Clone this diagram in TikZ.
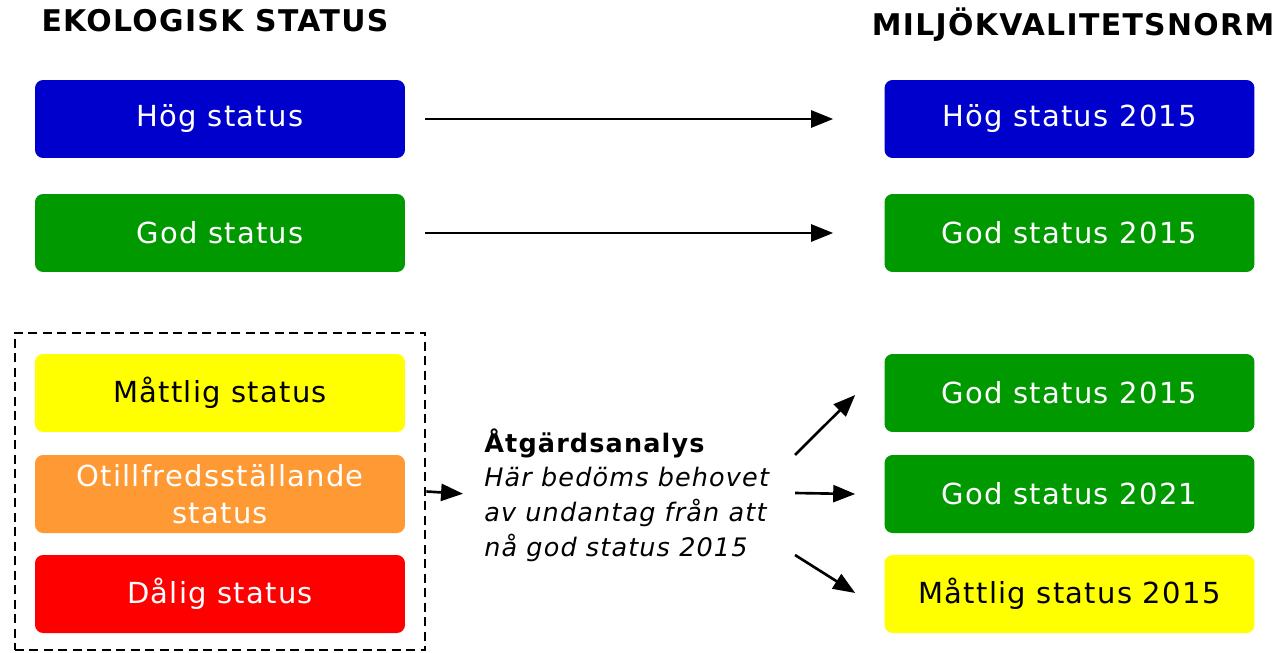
\documentclass[tikz,border=0pt]{standalone}
\usepackage{fontspec}
\setmainfont{DejaVu Sans}[LetterSpace=4.5]
\usetikzlibrary{arrows.meta,fit}
\definecolor{hoegblue}{RGB}{0,0,204}
\definecolor{godgreen}{RGB}{0,153,0}
\definecolor{mattyellow}{RGB}{255,255,0}
\definecolor{otillorange}{RGB}{255,153,51}
\definecolor{daligred}{RGB}{255,0,0}

\begin{document}
\begin{tikzpicture}[x=0.02cm, y=-0.02cm,
    statusbox/.style={rounded corners=0.16cm, minimum width=7.4cm, minimum height=1.56cm,
      inner sep=0pt, align=center, text=white, font=\fontsize{16.5}{21}\selectfont},
    heading/.style={font=\fontsize{17}{20}\selectfont\bfseries},
    arr/.style={-{Triangle[length=0.44cm,width=0.34cm]}, line width=1.5pt}]
        \useasboundingbox (0,0) rectangle (1283,652);

        % Headings
        \node[heading] (ekohead) at (215,21) {EKOLOGISK STATUS};
        \node[heading] (mkhead) at (1073,25) {MILJÖKVALITETSNORM};

        % Ekologisk status (left column)
        \node[statusbox, fill=hoegblue] (hoeg) at (220,119) {Hög status};
        \node[statusbox, fill=godgreen] (god) at (220,233) {God status};
        \node[statusbox, fill=mattyellow, text=black] (mattlig) at (220,393) {Måttlig status};
        \node[statusbox, fill=otillorange] (otill) at (220,494) {Otillfredsställande\\status};
        \node[statusbox, fill=daligred] (dalig) at (220,594) {Dålig status};

        % Dashed frame round the three lower classes
        \node[draw, dash pattern=on 0.18cm off 0.11cm, line width=1.2pt,
              inner xsep=0.4cm, inner ysep=0.38cm, yshift=0.04cm, fit=(mattlig)(dalig)] (undbox) {};

        % Miljökvalitetsnorm (right column)
        \node[statusbox, fill=hoegblue] (hoegN) at (1069.5,119) {Hög status 2015};
        \node[statusbox, fill=godgreen] (godN) at (1069.5,233) {God status 2015};
        \node[statusbox, fill=godgreen] (god15) at (1069.5,393) {God status 2015};
        \node[statusbox, fill=godgreen] (god21) at (1069.5,494) {God status 2021};
        \node[statusbox, fill=mattyellow, text=black] (matt15) at (1069.5,594) {Måttlig status 2015};

        % Analysis text
        \node[anchor=west, inner sep=0pt, align=left, font=\fontsize{14.5}{19.8}\selectfont]
              (analys) at (484,495)
              {\textbf{Åtgärdsanalys}\\\textit{Här bedöms behovet}\\\textit{av undantag från att}\\\textit{nå god status 2015}};

        % Straight arrows for the upper classes
        \draw[arr, shorten <=0.4cm, shorten >=1.02cm] (hoeg.east) -- (hoegN.west);
        \draw[arr, shorten <=0.4cm, shorten >=1.02cm] (god.east) -- (godN.west);

        % Arrows via the analysis
        \draw[arr, shorten >=0.42cm] (undbox.east) -- (analys.west);
        \coordinate (s1) at (795,455);
        \coordinate (s2) at (795,493);
        \coordinate (s3) at (795,555);
        \draw[arr] (s1) -- ([shift={(-29,2)}]god15.west);
        \draw[arr] (s2) -- ([shift={(-29,0)}]god21.west);
        \draw[arr] (s3) -- ([shift={(-29,-1)}]matt15.west);

\end{tikzpicture}
\end{document}
